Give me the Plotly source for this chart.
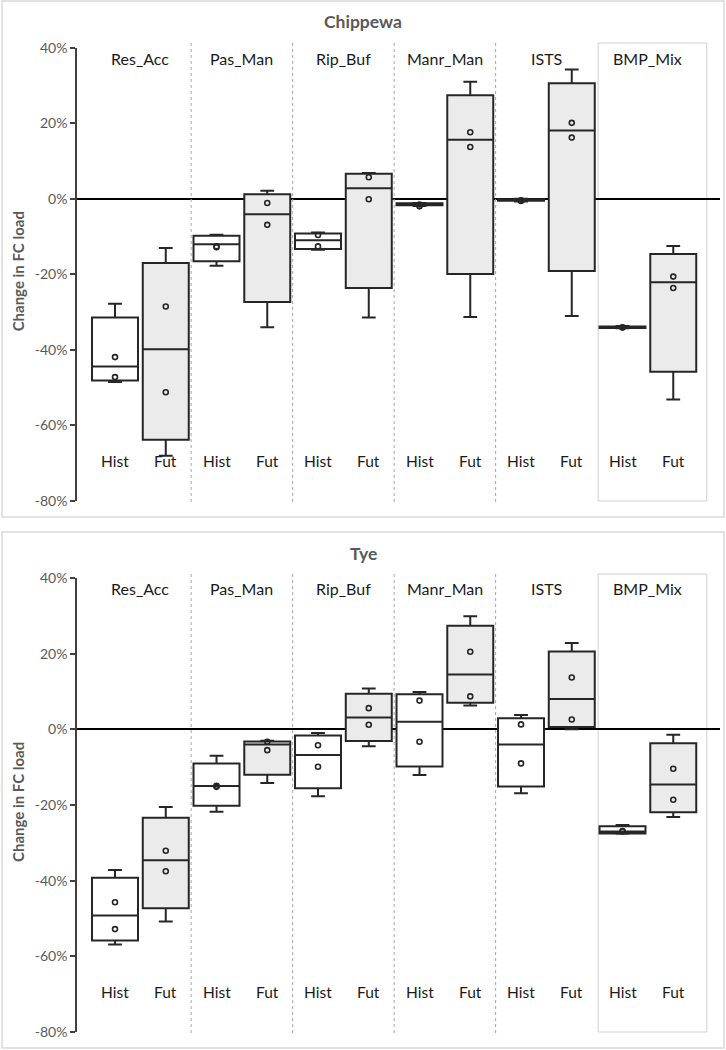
import plotly.graph_objects as go

categories = ["Res_Acc", "Pas_Man", "Rip_Buf", "Manr_Man", "ISTS", "BMP_Mix"]
periods = ["Hist", "Fut"]
panels = ["Chippewa", "Tye"]
tick_vals = [-0.8, -0.6, -0.4, -0.2, 0.0, 0.2, 0.4]
tick_text = ["-80%", "-60%", "-40%", "-20%", "0%", "20%", "40%"]

# ---- Chippewa (values in %) ----
chip_hist_low = [-48.5, -17.7, -13.5, -1.9, -0.7, -34.3]
chip_hist_q1 = [-48.1, -16.5, -13.3, -1.7, -0.5, -34.2]
chip_hist_med = [-44.4, -12.0, -11.0, -1.4, -0.3, -34.0]
chip_hist_q3 = [-31.4, -9.8, -9.2, -1.2, -0.1, -33.8]
chip_hist_high = [-27.8, -9.5, -8.9, -1.1, 0.0, -33.7]
chip_hist_dot1 = [-41.9, -12.6, -9.6, -1.5, -0.4, -34.0]
chip_hist_dot2 = [-47.2, -12.8, -12.6, -2.0, -0.6, -34.1]

chip_fut_low = [-68.0, -34.0, -31.4, -31.3, -31.0, -53.1]
chip_fut_q1 = [-63.8, -27.3, -23.6, -19.9, -19.1, -45.8]
chip_fut_med = [-39.8, -4.1, 2.8, 15.6, 18.1, -22.1]
chip_fut_q3 = [-17.0, 1.2, 6.6, 27.4, 30.6, -14.6]
chip_fut_high = [-13.0, 2.1, 6.8, 31.0, 34.2, -12.5]
chip_fut_dot1 = [-28.5, -1.1, 5.7, 17.6, 20.1, -20.6]
chip_fut_dot2 = [-51.2, -6.9, -0.1, 13.7, 16.2, -23.6]

# ---- Tye (values in %) ----
tye_hist_low = [-56.9, -21.8, -17.7, -12.1, -16.9, -27.6]
tye_hist_q1 = [-55.8, -20.2, -15.6, -9.8, -15.1, -27.5]
tye_hist_med = [-49.2, -15.0, -6.8, 2.0, -4.0, -27.0]
tye_hist_q3 = [-39.2, -9.0, -1.6, 9.3, 2.9, -25.6]
tye_hist_high = [-37.2, -7.0, -1.0, 9.9, 3.8, -25.3]
tye_hist_dot1 = [-45.7, -14.9, -4.2, 7.6, 1.3, -27.0]
tye_hist_dot2 = [-52.8, -15.2, -9.9, -3.3, -9.0, -26.9]

tye_fut_low = [-50.8, -14.2, -4.5, 6.3, 0.0, -23.2]
tye_fut_q1 = [-47.3, -12.0, -3.1, 7.0, 0.6, -21.9]
tye_fut_med = [-34.6, -4.0, 3.1, 14.5, 8.0, -14.6]
tye_fut_q3 = [-23.4, -3.2, 9.4, 27.4, 20.6, -3.7]
tye_fut_high = [-20.5, -3.0, 10.8, 29.9, 22.8, -1.4]
tye_fut_dot1 = [-32.1, -3.3, 5.6, 20.5, 13.7, -10.4]
tye_fut_dot2 = [-37.5, -5.5, 1.2, 8.7, 2.6, -18.6]

data = {
    "Chippewa": {
        "Hist": [chip_hist_low, chip_hist_q1, chip_hist_med, chip_hist_q3, chip_hist_high, chip_hist_dot1, chip_hist_dot2],
        "Fut": [chip_fut_low, chip_fut_q1, chip_fut_med, chip_fut_q3, chip_fut_high, chip_fut_dot1, chip_fut_dot2],
    },
    "Tye": {
        "Hist": [tye_hist_low, tye_hist_q1, tye_hist_med, tye_hist_q3, tye_hist_high, tye_hist_dot1, tye_hist_dot2],
        "Fut": [tye_fut_low, tye_fut_q1, tye_fut_med, tye_fut_q3, tye_fut_high, tye_fut_dot1, tye_fut_dot2],
    },
}

W, H = 726, 1050
FONT = "Lato"
LINE = "#262626"
fills = {"Hist": "#ffffff", "Fut": "#ebebeb"}

# pixel layout of each panel
panel_px = {
    "Chippewa": dict(ft=1, fb=517, pt=47.7, pb=501, ty=22, sep_t=43, sep_b=502),
    "Tye": dict(ft=532, fb=1048, pt=578, pb=1032, ty=553, sep_t=574, sep_b=1033),
}

def py(v):
    return 1 - v / H

fig = go.Figure()
shapes = []
annotations = []
x_domain = [77 / W, 720 / W]
x_range = [-0.749, 11.921]

for k, panel in enumerate(panels):
    xa = "x" if k == 0 else "x2"
    ya = "y" if k == 0 else "y2"
    px = panel_px[panel]
    for p, period in enumerate(periods):
        low, q1, med, q3, high, d1, d2 = data[panel][period]
        xs = [2 * g + p for g in range(len(categories))]
        fig.add_trace(go.Box(
            x=xs,
            lowerfence=[v / 100 for v in low],
            q1=[v / 100 for v in q1],
            median=[v / 100 for v in med],
            q3=[v / 100 for v in q3],
            upperfence=[v / 100 for v in high],
            width=0.906,
            whiskerwidth=0.3,
            fillcolor=fills[period],
            line=dict(color=LINE, width=2),
            boxpoints=False,
            hoverinfo="skip",
            showlegend=False,
            xaxis=xa, yaxis=ya,
        ))
        fig.add_trace(go.Scatter(
            x=xs + xs,
            y=[v / 100 for v in d1] + [v / 100 for v in d2],
            mode="markers",
            marker=dict(symbol="circle-open", size=5, color=LINE, line=dict(width=1.6, color=LINE)),
            hoverinfo="skip",
            showlegend=False,
            xaxis=xa, yaxis=ya,
        ))
        for g in range(len(categories)):
            annotations.append(dict(
                x=2 * g + p, y=-0.695, xref=xa, yref=ya, text=period,
                showarrow=False, font=dict(family=FONT, size=15.5, color="#1a1a1a"),
                xanchor="center", yanchor="middle",
            ))
    for g, cat in enumerate(categories):
        annotations.append(dict(
            x=2 * g + 0.5, y=0.371, xref=xa, yref=ya, text=cat,
            showarrow=False, font=dict(family=FONT, size=16, color="#1a1a1a"),
            xanchor="center", yanchor="middle",
        ))
    # separators
    for g in range(1, 5):
        shapes.append(dict(
            type="line", xref=xa, yref="paper",
            x0=2 * g - 0.5, x1=2 * g - 0.5, y0=py(px["sep_b"]), y1=py(px["sep_t"]),
            line=dict(color="#a6a6a6", width=1, dash="dot"),
        ))
    # BMP_Mix frame
    shapes.append(dict(
        type="rect", xref=xa, yref="paper",
        x0=9.52, x1=11.66, y0=py(px["sep_b"] - 1), y1=py(px["sep_t"]),
        line=dict(color="#d0d0d0", width=1), fillcolor="rgba(0,0,0,0)", layer="below",
    ))
    # panel frame
    shapes.append(dict(
        type="rect", xref="paper", yref="paper",
        x0=2 / W, x1=724 / W, y0=py(px["fb"]), y1=py(px["ft"]),
        line=dict(color="#d9d9d9", width=1.5), fillcolor="rgba(0,0,0,0)", layer="below",
    ))
    # title
    annotations.append(dict(
        x=0.5, y=py(px["ty"]), xref="paper", yref="paper", text="<b>%s</b>" % panel,
        showarrow=False, font=dict(family=FONT, size=17.5, color="#595959"),
        xanchor="center", yanchor="middle",
    ))
    # y title
    annotations.append(dict(
        x=18 / W, y=py((px["pt"] + px["pb"]) / 2 - 3), xref="paper", yref="paper",
        text="<b>Change in FC load</b>", textangle=-90,
        showarrow=False, font=dict(family=FONT, size=15, color="#595959"),
        xanchor="center", yanchor="middle",
    ))

yaxis_common = dict(
    range=[-0.8, 0.4], tickvals=tick_vals, ticktext=tick_text,
    showline=True, linecolor="#404040", linewidth=1.5,
    ticks="outside", ticklen=5, tickwidth=1.5, tickcolor="#404040",
    tickfont=dict(family=FONT, size=14, color="#595959"),
    showgrid=False, zeroline=True, zerolinecolor="#000000", zerolinewidth=2,
    fixedrange=True, automargin=False,
)
xaxis_common = dict(
    range=x_range, domain=x_domain, showticklabels=False, showline=False,
    showgrid=False, zeroline=False, ticks="", fixedrange=True, automargin=False,
)

fig.update_layout(
    width=W, height=H, autosize=False,
    margin=dict(l=0, r=0, t=0, b=0, pad=0, autoexpand=False),
    paper_bgcolor="white", plot_bgcolor="rgba(0,0,0,0)",
    xaxis=dict(xaxis_common, anchor="y"),
    yaxis=dict(yaxis_common, domain=[py(panel_px["Chippewa"]["pb"]), py(panel_px["Chippewa"]["pt"])], anchor="x"),
    xaxis2=dict(xaxis_common, anchor="y2"),
    yaxis2=dict(yaxis_common, domain=[py(panel_px["Tye"]["pb"]), py(panel_px["Tye"]["pt"])], anchor="x2"),
    shapes=shapes,
    annotations=annotations,
    showlegend=False,
    font=dict(family=FONT),
)

fig.write_html(
    "out.html",
    config={"displayModeBar": False},
    post_script="document.body.style.margin='0';document.body.style.overflow='hidden';",
)
